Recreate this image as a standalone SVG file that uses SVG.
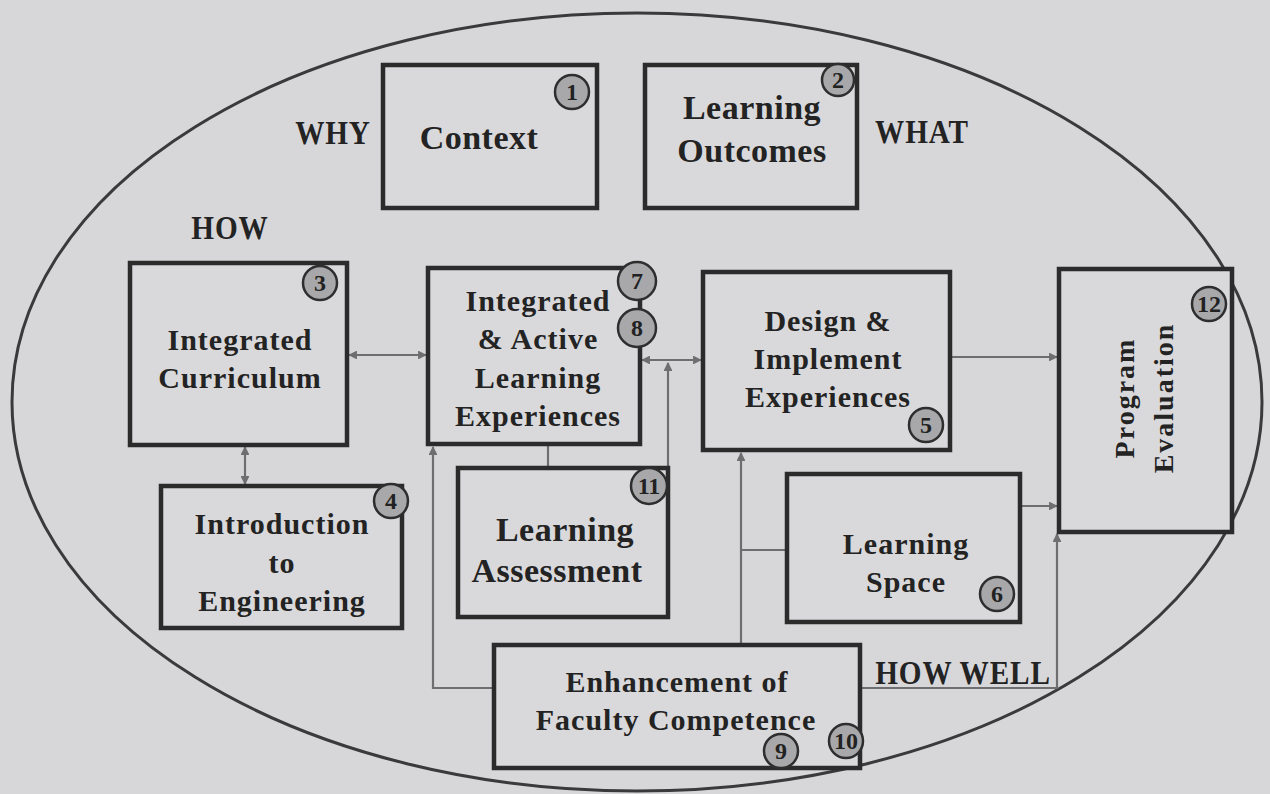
<svg xmlns="http://www.w3.org/2000/svg" width="1270" height="794" viewBox="0 0 1270 794">
<defs>
<style>
.box{fill:#d9d9db;stroke:#2b2b2b;stroke-width:4.5}
.t{font-family:"Liberation Serif","Times New Roman",serif;font-weight:bold;font-size:30px;letter-spacing:1px;fill:#232323;text-anchor:middle}
.big{font-size:34px;letter-spacing:0.5px}
.lab{font-family:"Liberation Serif","Times New Roman",serif;font-weight:bold;font-size:34px;letter-spacing:1px;fill:#232323;text-anchor:middle}
.badge circle{fill:#a8a8aa;stroke:#2e2e2e;stroke-width:2.5}
.badge text{font-family:"Liberation Serif","Times New Roman",serif;font-weight:bold;font-size:24px;fill:#222;text-anchor:middle}
.c{fill:none;stroke:#6e6e70;stroke-width:2.2}
</style>
<marker id="ah" viewBox="0 0 10 10" refX="9" refY="5" markerWidth="4" markerHeight="4" orient="auto-start-reverse">
<path d="M0,0 L10,5 L0,10 z" fill="#6e6e70"/>
</marker>
</defs>
<rect width="1270" height="794" fill="#d7d7da"/>
<ellipse cx="637" cy="402" rx="625" ry="389" fill="none" stroke="#3a3a3c" stroke-width="3"/>

<g id="connectors">
<line class="c" x1="349" y1="355" x2="426" y2="355" marker-start="url(#ah)" marker-end="url(#ah)"/>
<line class="c" x1="245" y1="447" x2="245" y2="484" marker-start="url(#ah)" marker-end="url(#ah)"/>
<line class="c" x1="642" y1="360" x2="701" y2="360" marker-start="url(#ah)" marker-end="url(#ah)"/>
<line class="c" x1="668" y1="468" x2="668" y2="363" marker-end="url(#ah)"/>
<line class="c" x1="548" y1="446" x2="548" y2="466"/>
<polyline class="c" points="494,688 433,688 433,447" marker-end="url(#ah)"/>
<line class="c" x1="741" y1="644" x2="741" y2="453" marker-end="url(#ah)"/>
<line class="c" x1="741" y1="550" x2="787" y2="550"/>
<polyline class="c" points="860,688 1057,688 1057,534" marker-end="url(#ah)"/>
<line class="c" x1="952" y1="357" x2="1057" y2="357" marker-end="url(#ah)"/>
<line class="c" x1="1022" y1="506" x2="1057" y2="506" marker-end="url(#ah)"/>
</g>

<g id="labels">
<text class="lab" x="333" y="144" transform="translate(333 0) scale(0.86 1) translate(-333 0)">WHY</text>
<text class="lab" x="922" y="143" transform="translate(922 0) scale(0.86 1) translate(-922 0)">WHAT</text>
<text class="lab" x="230" y="239" transform="translate(230 0) scale(0.86 1) translate(-230 0)">HOW</text>
<text class="lab" x="963" y="684" transform="translate(963 0) scale(0.86 1) translate(-963 0)">HOW WELL</text>
</g>

<g id="n1">
<rect class="box" x="383" y="65" width="214" height="143"/>
<text class="t big" x="479" y="149">Context</text>
<g class="badge"><circle cx="572" cy="92" r="17"/><text x="572" y="100">1</text></g>
</g>

<g id="n2">
<rect class="box" x="645" y="65" width="212" height="143"/>
<text class="t big" x="752" y="119">Learning</text>
<text class="t big" x="752" y="162">Outcomes</text>
<g class="badge"><circle cx="838" cy="80" r="16"/><text x="838" y="88">2</text></g>
</g>

<g id="n3">
<rect class="box" x="130" y="263" width="217" height="182"/>
<text class="t" x="240" y="350">Integrated</text>
<text class="t" x="240" y="388">Curriculum</text>
<g class="badge"><circle cx="320" cy="283" r="17"/><text x="320" y="291">3</text></g>
</g>

<g id="n7">
<rect class="box" x="428" y="268" width="212" height="176"/>
<text class="t" x="538" y="311">Integrated</text>
<text class="t" x="538" y="349">&amp; Active</text>
<text class="t" x="538" y="388">Learning</text>
<text class="t" x="538" y="426">Experiences</text>
<g class="badge"><circle cx="637" cy="281" r="19"/><text x="637" y="289">7</text></g>
<g class="badge"><circle cx="637" cy="328" r="19"/><text x="637" y="336">8</text></g>
</g>

<g id="n5">
<rect class="box" x="703" y="272" width="247" height="178"/>
<text class="t" x="828" y="331">Design &amp;</text>
<text class="t" x="828" y="369">Implement</text>
<text class="t" x="828" y="407">Experiences</text>
<g class="badge"><circle cx="926" cy="425" r="17"/><text x="926" y="433">5</text></g>
</g>

<g id="n12">
<rect class="box" x="1059" y="269" width="173" height="263"/>
<text class="t" x="0" y="0" transform="translate(1134 398) rotate(-90)" style="font-size:28px;letter-spacing:2px">Program</text>
<text class="t" x="0" y="0" transform="translate(1173 398) rotate(-90)" style="font-size:28px;letter-spacing:2px">Evaluation</text>
<g class="badge"><circle cx="1209" cy="304" r="17"/><text x="1209" y="312">12</text></g>
</g>

<g id="n4">
<rect class="box" x="161" y="486" width="241" height="142"/>
<text class="t" x="282" y="534">Introduction</text>
<text class="t" x="282" y="573">to</text>
<text class="t" x="282" y="611">Engineering</text>
<g class="badge"><circle cx="391" cy="501" r="17"/><text x="391" y="509">4</text></g>
</g>

<g id="n11">
<rect class="box" x="458" y="468" width="210" height="149"/>
<text class="t big" x="565" y="541">Learning</text>
<text class="t big" x="557" y="582">Assessment</text>
<g class="badge"><circle cx="649" cy="486" r="18"/><text x="649" y="494">11</text></g>
</g>

<g id="n6">
<rect class="box" x="787" y="474" width="233" height="148"/>
<text class="t" x="906" y="554">Learning</text>
<text class="t" x="906" y="592">Space</text>
<g class="badge"><circle cx="997" cy="594" r="17"/><text x="997" y="602">6</text></g>
</g>

<g id="n9">
<rect class="box" x="494" y="645" width="366" height="123"/>
<text class="t" x="677" y="692">Enhancement of</text>
<text class="t" x="676" y="730">Faculty Competence</text>
<g class="badge"><circle cx="781" cy="751" r="17"/><text x="781" y="759">9</text></g>
<g class="badge"><circle cx="846" cy="741" r="17"/><text x="846" y="749">10</text></g>
</g>
</svg>
